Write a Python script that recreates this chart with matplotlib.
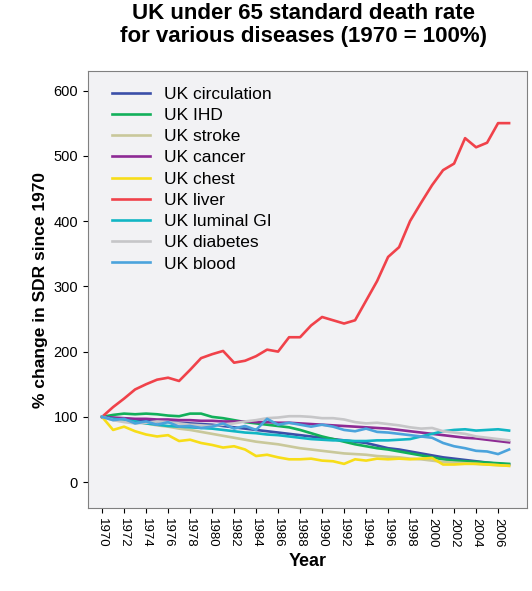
import numpy as np
import matplotlib.pyplot as plt

plt.rcParams['font.family'] = ['Liberation Sans', 'DejaVu Sans']

years = list(range(1970, 2008))

circulation = [100, 98, 97, 96, 95, 93, 92, 91, 90, 89, 88, 86, 84, 82, 80, 78, 76, 74, 72, 70, 68, 66, 64, 62, 60, 56, 52, 50, 47, 44, 41, 38, 36, 34, 32, 30, 28, 27]
ihd = [100, 103, 105, 104, 105, 104, 102, 101, 105, 105, 100, 98, 95, 92, 90, 88, 86, 84, 80, 75, 70, 66, 62, 58, 55, 52, 50, 47, 44, 41, 38, 35, 33, 32, 31, 30, 29, 28]
stroke = [100, 97, 94, 92, 90, 87, 85, 82, 80, 77, 74, 71, 68, 65, 62, 60, 58, 55, 52, 50, 48, 46, 44, 43, 42, 40, 39, 38, 36, 35, 33, 31, 30, 29, 28, 27, 26, 25]
cancer = [100, 99, 98, 97, 97, 96, 96, 95, 95, 94, 94, 93, 93, 93, 92, 92, 91, 91, 90, 89, 88, 87, 86, 85, 84, 83, 82, 80, 78, 76, 74, 72, 70, 68, 67, 65, 63, 61]
chest = [100, 80, 85, 78, 73, 70, 72, 63, 65, 60, 57, 53, 55, 50, 40, 42, 38, 35, 35, 36, 33, 32, 28, 35, 33, 36, 35, 36, 35, 36, 37, 27, 27, 28, 28, 27, 26, 25]
liver = [100, 115, 128, 142, 150, 157, 160, 155, 172, 190, 196, 201, 183, 186, 193, 203, 200, 222, 222, 240, 253, 248, 243, 248, 278, 308, 345, 360, 400, 428, 455, 478, 488, 527, 513, 520, 550, 550]
luminal_gi = [100, 97, 95, 93, 90, 88, 86, 85, 84, 83, 82, 80, 78, 76, 75, 73, 72, 70, 68, 66, 65, 64, 64, 63, 63, 64, 64, 65, 66, 70, 74, 78, 80, 81, 79, 80, 81, 79]
diabetes = [100, 95, 92, 90, 91, 93, 92, 90, 88, 87, 86, 88, 90, 93, 95, 98, 99, 101, 101, 100, 98, 98, 96, 92, 90, 91, 89, 87, 84, 82, 83, 78, 76, 74, 70, 68, 66, 64]
blood = [100, 95, 97, 90, 93, 88, 92, 85, 86, 83, 85, 90, 82, 86, 80, 97, 88, 91, 88, 85, 88, 85, 80, 78, 82, 77, 76, 74, 72, 70, 68, 60, 55, 52, 48, 47, 43, 50]

names = ["UK circulation", "UK IHD", "UK stroke", "UK cancer", "UK chest",
         "UK liver", "UK luminal GI", "UK diabetes", "UK blood"]
series = [circulation, ihd, stroke, cancer, chest, liver, luminal_gi, diabetes, blood]
colors = ["#3b4fa8", "#12b05a", "#c9c89a", "#8e2a94", "#f7dd18",
          "#f0424a", "#12b6c4", "#c6c6c8", "#4ba3dc"]

fig = plt.figure(figsize=(5.32, 5.91), dpi=100)
fig.patch.set_facecolor("white")
ax = fig.add_axes([0.165, 0.14, 0.825, 0.74])
ax.set_facecolor("#f2f2f4")

for nm, s, c in zip(names, series, colors):
    ax.plot(years, s, color=c, linewidth=1.9, label=nm)

ax.set_xlim(1968.7, 2008.6)
ax.set_ylim(-40, 630)
ax.set_yticks(range(0, 601, 100))
ax.set_xticks(range(1970, 2007, 2))
ax.set_xticklabels([str(y) for y in range(1970, 2007, 2)], rotation=270, fontsize=9.5)
ax.tick_params(axis="y", labelsize=10.5)
for sp in ax.spines.values():
    sp.set_color("#808080")

ax.set_xlabel("Year", fontsize=13, fontweight="bold")
ax.set_ylabel("% change in SDR since 1970", fontsize=12.5, fontweight="bold")
fig.suptitle("UK under 65 standard death rate\nfor various diseases (1970 = 100%)",
             fontsize=16, fontweight="bold", x=0.57, y=0.995, linespacing=1.1)

leg = ax.legend(loc="upper left", frameon=False, fontsize=12.5,
                handlelength=2.2, labelspacing=0.35, bbox_to_anchor=(0.02, 1.0))

fig.savefig("out.png", dpi=100)
